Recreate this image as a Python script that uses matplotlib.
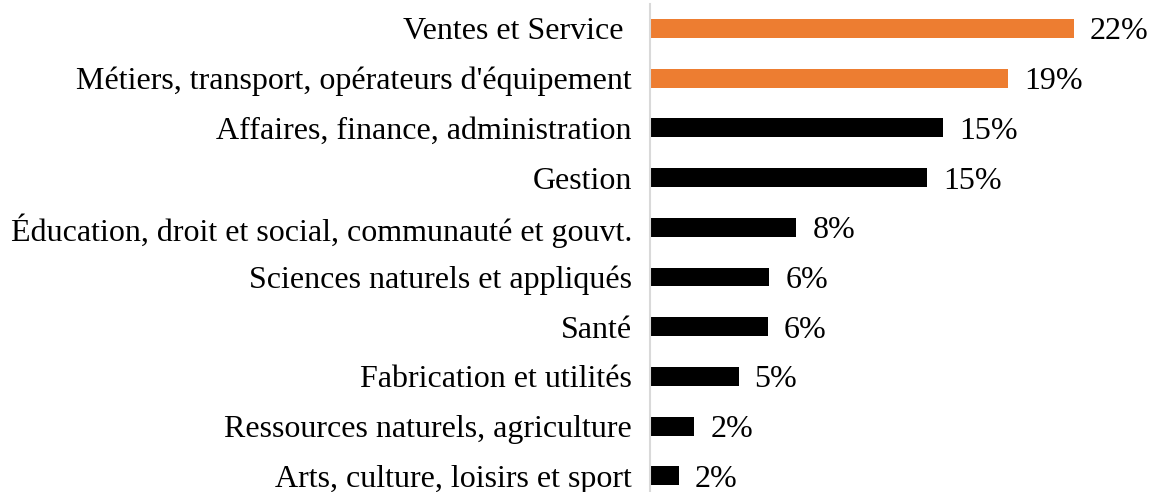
import matplotlib.pyplot as plt
import numpy as np

plt.rcParams['font.family'] = ['Liberation Serif', 'DejaVu Serif']

categories = ["Ventes et Service ",
              "Métiers, transport, opérateurs d'équipement",
              "Affaires, finance, administration",
              "Gestion",
              "Éducation, droit et social, communauté et gouvt.",
              "Sciences naturels et appliqués",
              "Santé",
              "Fabrication et utilités",
              "Ressources naturels, agriculture",
              "Arts, culture, loisirs et sport"]
values = [22.0, 18.6, 15.2, 14.4, 7.6, 6.2, 6.1, 4.6, 2.3, 1.5]
value_labels = ["22%", "19%", "15%", "15%", "8%", "6%", "6%", "5%", "2%", "2%"]
highlight = [True, True, False, False, False, False, False, False, False, False]

orange = "#ED7D31"
colors = [orange if h else "black" for h in highlight]

W, H = 1152, 492
fig = plt.figure(figsize=(W / 100, H / 100), dpi=100)

# axes placed in pixels: zero line at x=650, categories 49.7 px apart
step = 49.7
top = 28.5 - step / 2
bottom = top + step * len(values)
ax_w = 500
ax = fig.add_axes([650 / W, 1 - bottom / H, ax_w / W, (bottom - top) / H])

y = np.arange(len(values))
ax.barh(y, values, height=0.38, color=colors)
ax.set_ylim(len(values) - 0.5, -0.5)
ax.set_xlim(0, ax_w / 19.27)

ax.set_yticks(y)
ax.set_yticklabels(categories, fontsize=23)
ax.tick_params(axis='y', length=0, pad=13)
ax.set_xticks([])

for s in ['top', 'right', 'bottom']:
    ax.spines[s].set_visible(False)
ax.spines['left'].set_color('#D9D9D9')
ax.spines['left'].set_linewidth(1.5)

for yi, v, lab in zip(y, values, value_labels):
    ax.annotate(lab, (v, yi), xytext=(11.5, 0), textcoords='offset points',
                va='center_baseline', ha='left', fontsize=23)

fig.savefig("out.png", dpi=100)
